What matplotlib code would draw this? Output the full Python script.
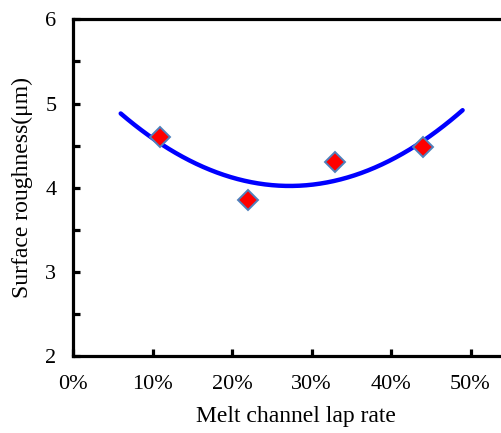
import numpy as np
import matplotlib
matplotlib.use("Agg")
import matplotlib.pyplot as plt
from matplotlib.ticker import FixedLocator, PercentFormatter

# Measured data
lap_rate = [0.11, 0.22, 0.33, 0.44]
roughness = [4.60, 3.85, 4.31, 4.48]
trend_range = [0.06, 0.49]   # span of the fitted trend line
x_ticks = [0.0, 0.1, 0.2, 0.3, 0.4, 0.5]
y_ticks = [2, 3, 4, 5, 6]

plt.rcParams["font.family"] = ["Liberation Serif", "DejaVu Serif"]

fig = plt.figure(figsize=(5.02, 4.33), dpi=100)
ax = fig.add_axes([0.1454, 0.1767, 0.887, 0.779])

# Second-order polynomial trend line
coef = np.polyfit(lap_rate, roughness, 2)
xs = np.linspace(trend_range[0], trend_range[1], 200)
ax.plot(xs, np.polyval(coef, xs), color="#0000ff", lw=3.2,
        solid_capstyle="round", zorder=2)

ax.plot(lap_rate, roughness, linestyle="none", marker="D", ms=10,
        mfc="#ff0000", mec="#4f81bd", mew=1.4, zorder=3)

ax.set_xlim(0, 0.56)
ax.set_ylim(2, 6)
ax.xaxis.set_major_locator(FixedLocator(x_ticks))
ax.xaxis.set_major_formatter(PercentFormatter(1.0, decimals=0))
ax.yaxis.set_major_locator(FixedLocator(y_ticks))
ax.yaxis.set_minor_locator(FixedLocator([2.5, 3.5, 4.5, 5.5]))

for side in ["left", "bottom", "top"]:
    ax.spines[side].set_linewidth(2.3)
ax.spines["right"].set_visible(False)

ax.tick_params(axis="both", which="both", direction="in", width=2.3,
               length=5, labelsize=16, colors="black")
ax.tick_params(axis="x", pad=13)
ax.tick_params(axis="y", pad=12)

ax.set_xlabel("Melt channel lap rate", fontsize=17, labelpad=9)
ax.set_ylabel("Surface roughness(μm)", fontsize=17, labelpad=9)

fig.savefig("out.png", dpi=100)
